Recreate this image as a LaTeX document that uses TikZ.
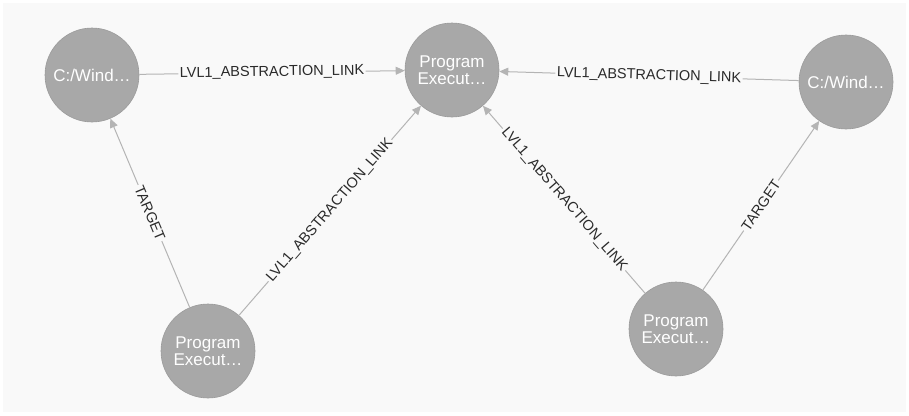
\documentclass[tikz,border=0pt]{standalone}
\usepackage{fontspec}
\setmainfont{Liberation Sans}
\usetikzlibrary{arrows.meta}
\definecolor{nodegray}{HTML}{A8A8A8}
\definecolor{edgegray}{HTML}{B4B4B4}
\definecolor{labelgray}{HTML}{2A2A2A}
\definecolor{canvas}{HTML}{F9F9F9}
\begin{document}
\begin{tikzpicture}[x=1pt,y=-1pt,
  entity/.style={circle, fill=nodegray, draw=nodegray!92!black, line width=0.6pt,
    minimum size=94pt, inner sep=0pt, text=white, align=center,
    font=\fontsize{17}{17}\selectfont},
  rel/.style={draw=edgegray, line width=1pt,
    -{Triangle[length=9pt,width=8pt,fill=edgegray]}},
  rellabel/.style={midway, sloped, fill=canvas, inner sep=1.5pt, text=labelgray,
    font=\fontsize{14.5}{15}\selectfont}]
  % canvas
  \fill[white] (0,0) rectangle (909,415);
  \fill[canvas] (3,3) rectangle (906,412);
  \useasboundingbox (0,0) rectangle (909,415);

  % entities
  \node[entity] (winL)  at (92,75)   {C:/Wind\dots};
  \node[entity] (progC) at (452,70)  {Program\\Execut\dots};
  \node[entity] (winR)  at (846,82)  {C:/Wind\dots};
  \node[entity] (progL) at (208,351) {Program\\Execut\dots};
  \node[entity] (progR) at (676,329) {Program\\Execut\dots};

  % relationships
  \draw[rel] (winL)  -- node[rellabel] {LVL1\_ABSTRACTION\_LINK} (progC);
  \draw[rel] (winR)  -- node[rellabel] {LVL1\_ABSTRACTION\_LINK} (progC);
  \draw[rel] (progL) -- node[rellabel] {TARGET} (winL);
  \draw[rel] (progL) -- node[rellabel] {LVL1\_ABSTRACTION\_LINK} (progC);
  \draw[rel] (progR) -- node[rellabel] {LVL1\_ABSTRACTION\_LINK} (progC);
  \draw[rel] (progR) -- node[rellabel] {TARGET} (winR);
\end{tikzpicture}
\end{document}
